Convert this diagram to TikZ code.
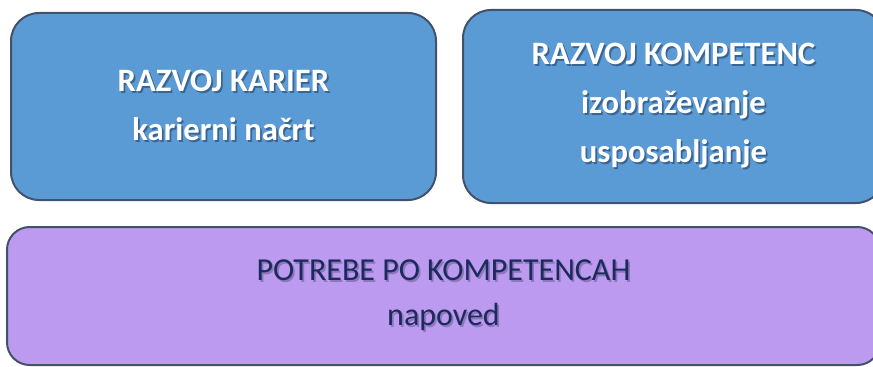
\documentclass[tikz,border=0pt]{standalone}
\usepackage{fontspec}
\setmainfont{Carlito}
\usetikzlibrary{positioning}
\definecolor{boxblue}{HTML}{5B9BD5}
\definecolor{boxpurple}{HTML}{BB9AEF}
\definecolor{boxedge}{HTML}{41526A}
\definecolor{navytext}{HTML}{1C2A5E}
\definecolor{blueshadow}{HTML}{3A6592}
\definecolor{purpleshadow}{HTML}{8C78B8}
\newcommand{\shadowed}[2]{\rlap{\kern1.3pt\raisebox{-1.3pt}{\textcolor{#1}{#2}}}#2}
\tikzset{
	bluebox/.style={draw=boxedge, line width=1.5pt, fill=boxblue, rounded corners=21pt,
		text=white, font=\bfseries\fontsize{24.5}{36.75}\selectfont, align=center, inner sep=0pt},
	purplebox/.style={draw=boxedge, line width=1.5pt, fill=boxpurple, rounded corners=17pt,
		text=navytext, font=\fontsize{24}{33.75}\selectfont, align=center, inner sep=0pt}
}

\begin{document}
\begin{tikzpicture}[x=0.75pt, y=-0.75pt]
					\useasboundingbox (0,0) rectangle (873,367);
					%Nodes
					\node[bluebox, minimum width=318.75pt, minimum height=140.25pt]
						(karier) at (223.5,106.5)
						{\shadowed{blueshadow}{RAZVOJ KARIER}\\\shadowed{blueshadow}{karierni načrt}};
					\node[bluebox, minimum width=315.75pt, minimum height=144.75pt]
						(kompetenc) at (673.5,106.5)
						{\shadowed{blueshadow}{RAZVOJ KOMPETENC}\\\shadowed{blueshadow}{izobraževanje}\\\shadowed{blueshadow}{usposabljanje}};
					\node[purplebox, minimum width=654.75pt, minimum height=103.5pt]
						(potrebe) at (443.5,296)
						{\shadowed{purpleshadow}{POTREBE PO KOMPETENCAH}\\\shadowed{purpleshadow}{napoved}};
\end{tikzpicture}
\end{document}
